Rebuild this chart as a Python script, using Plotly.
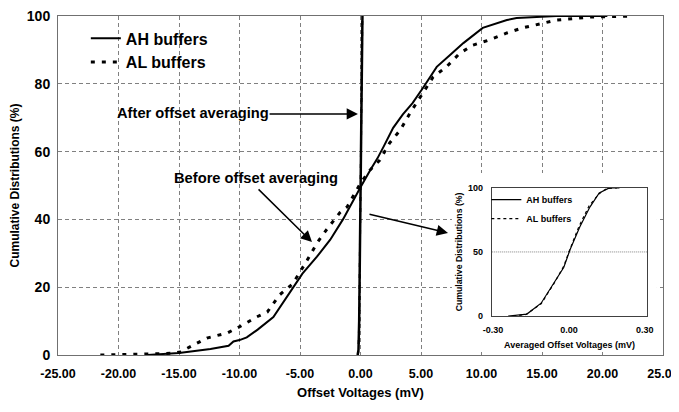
import plotly.graph_objects as go

# ---- data ----
ah_x = [-17.6, -15.0, -12.4, -10.9, -10.5, -10.0, -9.4, -8.5, -7.2, -6.1, -4.8, -3.6, -2.5, -1.45,
        -0.6, 0.0, 0.8, 1.4, 1.9, 2.7, 3.5, 4.3, 5.2, 6.3, 7.4, 8.5, 10.1, 12.1, 12.9, 16.2, 20.4]
ah_y = [0, 0.6, 1.8, 2.7, 4.0, 4.4, 5.2, 7.5, 11.2, 17.1, 24, 29, 34, 40,
        45.7, 49.5, 54.5, 58, 61.4, 67, 71, 74.3, 79, 85, 88.5, 92, 96.5, 98.8, 99.4, 100, 100]

al_x = [-21.5, -18, -15.5, -14.9, -14.1, -12.7, -11.0, -9.7, -8.6, -7.7, -6.7, -5.6, -4.4, -3.6,
        -2.8, -1.7, -1.1, 0.0, 0.8, 1.6, 2.4, 3.3, 4.1, 4.9, 6.0, 7.1, 8.2, 9.3, 10.7, 12.1, 13.4,
        16.2, 19.0, 22.5]
al_y = [0, 0.2, 0.5, 0.9, 2.4, 5, 6.5, 8.9, 11.2, 12.7, 17.7, 21, 28, 33,
        37, 42, 43.7, 50.7, 54.6, 57.5, 62.5, 66.4, 71.4, 76, 82, 85, 89, 91.4, 93, 95, 96.5,
        98.8, 99.7, 100]

avg_ah_x = [-0.24, -0.2, -0.166, -0.11, -0.06, -0.02, 0.004, 0.043, 0.083, 0.12, 0.16, 0.2]
avg_ah_y = [0, 0.5, 1.5, 10, 26, 38, 51.5, 69.5, 85, 96, 100, 100]
avg_al_x = [-0.22, -0.17, -0.11, -0.06, -0.02, 0.0, 0.04, 0.08, 0.12, 0.15, 0.19]
avg_al_y = [0, 1.2, 9.5, 25, 39, 50, 70, 86, 95.5, 99.5, 100]

x_ticks = [-25, -20, -15, -10, -5, 0, 5, 10, 15, 20, 25]
x_tick_labels = ["-25.00", "-20.00", "-15.00", "-10.00", "-5.00", "0.00", "5.00", "10.00",
                 "15.00", "20.00", "25.00"]
y_ticks = [0, 20, 40, 60, 80, 100]
inset_x_ticks = [-0.3, 0.0, 0.3]
inset_x_labels = ["-0.30", "0.00", "0.30"]
inset_y_ticks = [0, 50, 100]

FONT = "Arial, Liberation Sans, sans-serif"
BOLD = dict(family=FONT, color="black", weight="bold")
DOT = "4px,7px"

fig = go.Figure()

# main curves
fig.add_trace(go.Scatter(x=ah_x, y=ah_y, mode="lines", name="AH buffers",
                         line=dict(color="black", width=2)))
fig.add_trace(go.Scatter(x=al_x, y=al_y, mode="lines", name="AL buffers",
                         line=dict(color="black", width=3, dash=DOT)))
# averaged (appears as a near-vertical line in main plot)
fig.add_trace(go.Scatter(x=avg_ah_x, y=avg_ah_y, mode="lines", showlegend=False,
                         line=dict(color="black", width=2.5)))
fig.add_trace(go.Scatter(x=avg_al_x, y=avg_al_y, mode="lines", showlegend=False,
                         line=dict(color="black", width=2, dash=DOT)))

# inset curves
fig.add_trace(go.Scatter(x=avg_ah_x, y=avg_ah_y, mode="lines", name="AH buffers",
                         xaxis="x2", yaxis="y2", legend="legend2",
                         line=dict(color="black", width=1.2)))
fig.add_trace(go.Scatter(x=avg_al_x, y=avg_al_y, mode="lines", name="AL buffers",
                         xaxis="x2", yaxis="y2", legend="legend2",
                         line=dict(color="black", width=1.2, dash="3px,3px")))

grid = dict(showgrid=True, gridcolor="#808080", gridwidth=1, griddash="4px,3px")

fig.update_layout(
    width=679, height=412,
    margin=dict(l=50, r=24, t=8, b=65),
    paper_bgcolor="white", plot_bgcolor="white",
    font=dict(family=FONT, color="black"),
    xaxis=dict(range=[-25, 25], tickvals=x_ticks, ticktext=x_tick_labels, automargin=False,
               tickfont=dict(size=12.5, **BOLD), ticks="", zeroline=False, ticklabelstandoff=7,
               ticklabeloverflow="allow",
               showline=True, linecolor="#707070", mirror=True,
               title=dict(text="Offset Voltages (mV)", font=dict(size=13, **BOLD), standoff=7),
               **grid),
    yaxis=dict(range=[0, 100], tickvals=y_ticks, automargin=False,
               tickfont=dict(size=14, **BOLD), ticks="", zeroline=False, ticklabelstandoff=4,
               ticklabeloverflow="allow",
               showline=True, linecolor="#707070", mirror=True,
               title=dict(text="Cumulative Distributions (%)", font=dict(size=12, **BOLD), standoff=20),
               **grid),
    xaxis2=dict(domain=[0.717, 0.974], anchor="y2", range=[-0.305, 0.31], automargin=False,
                tickvals=inset_x_ticks, ticktext=inset_x_labels, ticks="", zeroline=False,
                showgrid=False, showline=True, linecolor="#404040", mirror=True,
                tickfont=dict(size=9, **BOLD), ticklabelstandoff=5,
                title=dict(text="Averaged Offset Voltages (mV)", font=dict(size=9, **BOLD), standoff=7)),
    yaxis2=dict(domain=[0.115, 0.493], anchor="x2", range=[0, 100], automargin=False,
                tickvals=inset_y_ticks, ticks="", zeroline=False,
                showgrid=False, showline=True, linecolor="#404040", mirror=True,
                tickfont=dict(size=9, **BOLD), ticklabelstandoff=6,
                title=dict(text="Cumulative Distributions (%)", font=dict(size=8.7, **BOLD), standoff=3)),
    legend=dict(x=0.046, y=0.984, xanchor="left", yanchor="top", bgcolor="rgba(0,0,0,0)",
                font=dict(size=16, **BOLD), itemwidth=30),
    legend2=dict(x=0.708, y=0.501, xanchor="left", yanchor="top", bgcolor="rgba(0,0,0,0)",
                 font=dict(size=9, **BOLD), itemwidth=30),
    showlegend=True,
)

# white background behind inset (hides main grid there)
fig.add_shape(type="rect", xref="x", yref="y", x0=7.56, x1=24.5, y0=0.9, y1=53.7,
              fillcolor="white", line=dict(width=0), layer="between")
# inset 50% dotted gridline
fig.add_shape(type="line", xref="x2", yref="y2", x0=-0.305, x1=0.31, y0=50, y1=50,
              line=dict(color="#808080", width=1, dash="1px,1px"), layer="between")

ann_font = dict(size=14.7, **BOLD)
fig.add_annotation(x=-13.84, y=71.4, text="After offset averaging", showarrow=False, font=ann_font)
fig.add_annotation(x=-8.6, y=52.2, text="Before offset averaging", showarrow=False, font=ann_font)

arrow = dict(text="", showarrow=True, arrowhead=2, arrowsize=1.5, arrowwidth=1.5,
             arrowcolor="black", axref="x", ayref="y", standoff=0, startstandoff=0)
fig.add_annotation(x=-0.21, y=71.1, ax=-7.64, ay=71.1, **arrow)
fig.add_annotation(x=-4.01, y=33.3, ax=-8.55, ay=49.3, **arrow)
fig.add_annotation(x=7.23, y=36.0, ax=0.62, ay=41.6, **arrow)

fig.write_html("out.html")
